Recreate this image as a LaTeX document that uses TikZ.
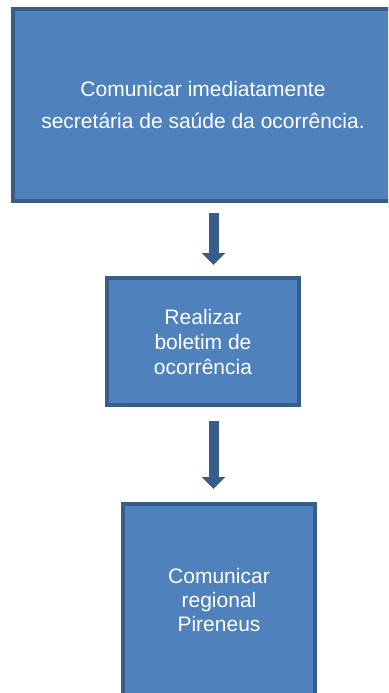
\documentclass[tikz,border=0pt]{standalone}
\usepackage{fontspec}
\setmainfont{Liberation Sans}
\usepackage{tikz}
\usetikzlibrary{arrows.meta}

\definecolor{boxfill}{HTML}{4F81BD}
\definecolor{boxline}{HTML}{385D8A}

\begin{document}
\begin{tikzpicture}[x=1pt,y=-1pt,
  stepbox/.style={draw=boxline,fill=boxfill,line width=4pt,text=white,align=center,inner sep=0pt},
  blockarrow/.style={draw=boxline,line width=10pt,-{Triangle[width=23pt,length=12pt]}}]

\clip (0,0) rectangle (388,693);
\fill[white] (0,0) rectangle (388,693);

% first box
\node[stepbox,minimum width=380pt,minimum height=192pt,font=\fontsize{21}{32}\selectfont] (aviso) at (203,105)
  {Comunicar imediatamente\\secretária de saúde da ocorrência.};

% second box
\node[stepbox,minimum width=192pt,minimum height=127pt,font=\fontsize{21}{25}\selectfont] (boletim) at (203,341.5)
  {Realizar\\boletim de\\ocorrência};

% third box
\node[stepbox,minimum width=192pt,minimum height=192pt,font=\fontsize{21}{24}\selectfont] (regional) at (219,600)
  {Comunicar\\regional\\Pireneus};

% arrows
\draw[blockarrow] ([xshift=10.5pt,yshift=-10pt]aviso.south -| boletim.center) -- ([xshift=10.5pt,yshift=11pt]boletim.north);
\draw[blockarrow] ([xshift=10.5pt,yshift=-14pt]boletim.south) -- ([xshift=-5.5pt,yshift=13pt]regional.north);

\end{tikzpicture}
\end{document}
